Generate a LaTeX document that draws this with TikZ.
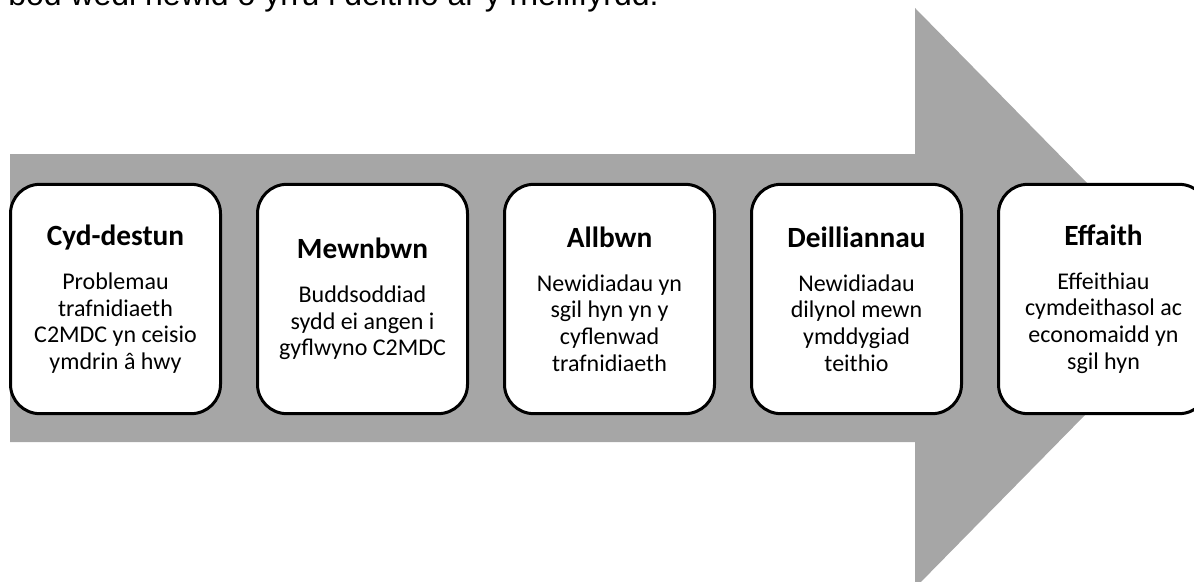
\documentclass[tikz,border=0pt]{standalone}
\usepackage{fontspec}
\setmainfont{Carlito}
\newfontfamily\toptext{Liberation Sans}
\usetikzlibrary{positioning}
\definecolor{arrowgrey}{HTML}{A6A6A6}
\tikzset{
  stage/.style={draw=black, line width=2.25pt, fill=white, rounded corners=22pt,
    minimum width=157.5pt, minimum height=172pt, align=center, inner sep=0pt,
    font=\fontsize{18}{20}\selectfont},
}
\newcommand{\stagetitle}[1]{{\bfseries\fontsize{22}{24}\selectfont #1}\\[13pt]}

\begin{document}
\begin{tikzpicture}[x=0.75pt,y=-0.75pt]
\useasboundingbox (0,0) rectangle (1194,581);
\clip (0,0) rectangle (1194,581);
% grey arrow behind the stages
\coordinate (A) at (10,154);
\coordinate (B) at (915,154);
\coordinate (C) at (915,8);
\coordinate (D) at (1200,298);
\coordinate (E) at (915,588);
\coordinate (F) at (915,442);
\coordinate (G) at (10,442);
\fill[arrowgrey] (A) -- (B) -- (C) -- (D) -- (E) -- (F) -- (G) -- cycle;
% caption cut off at the top
\node[anchor=base west, inner sep=0pt, font=\toptext\fontsize{24}{28}\selectfont] (cap) at (8,6)
  {bod wedi newid o yrru i deithio ar y rheilffyrdd.};
% stages
\node[stage] (cyd) at (115.5,299)
  {\stagetitle{Cyd-destun}Problemau\\trafnidiaeth\\C2MDC yn ceisio\\ymdrin â hwy};
\node[stage, right=25.5pt of cyd] (mewn)
  {\stagetitle{Mewnbwn}Buddsoddiad\\sydd ei angen i\\gyflwyno C2MDC};
\node[stage, right=25.5pt of mewn] (allb)
  {\stagetitle{Allbwn}Newidiadau yn\\sgil hyn yn y\\cyflenwad\\trafnidiaeth};
\node[stage, right=25.5pt of allb] (deill)
  {\stagetitle{Deilliannau}Newidiadau\\dilynol mewn\\ymddygiad\\teithio};
\node[stage, right=25.5pt of deill] (eff)
  {\stagetitle{Effaith}Effeithiau\\cymdeithasol ac\\economaidd yn\\sgil hyn};
\end{tikzpicture}
\end{document}
